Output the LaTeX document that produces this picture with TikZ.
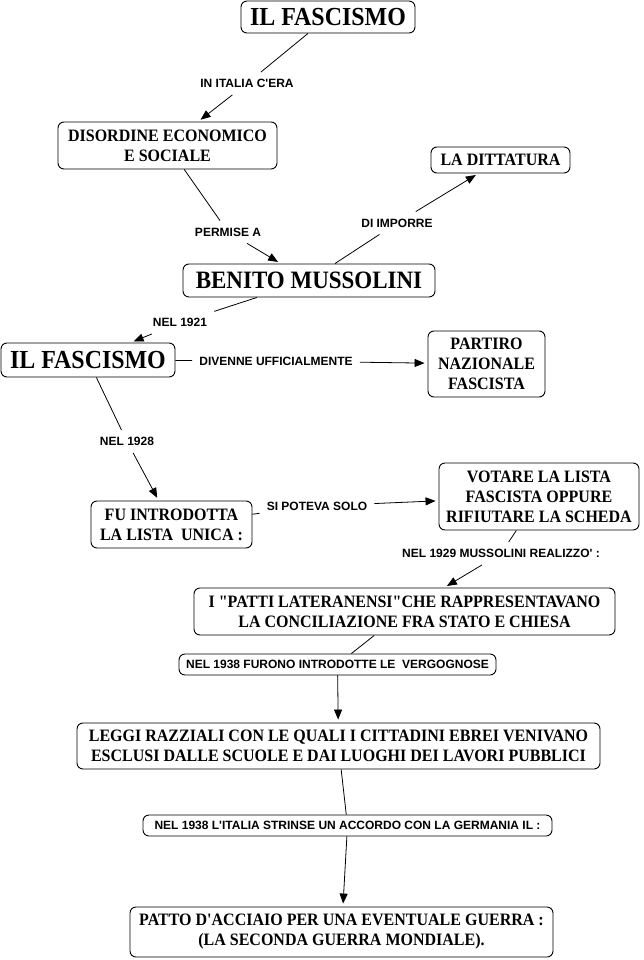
\documentclass[tikz,border=0pt]{standalone}
\usepackage{fontspec}
\newfontfamily\srf[FakeStretch=0.92]{Liberation Serif}
\newfontfamily\snf{Liberation Sans}
\usetikzlibrary{arrows.meta}
\tikzset{
  box/.style={draw, rounded corners=6pt, line width=0.9pt, inner sep=0pt, align=center,
    font=\srf\fontsize{17.4}{20}\selectfont\bfseries},
  bigbox/.style={box, font=\srf\fontsize{26}{30}\selectfont\bfseries},
  labbox/.style={draw, rounded corners=6pt, line width=0.9pt, inner sep=0pt, align=center,
    font=\snf\fontsize{12}{14}\selectfont\bfseries},
  lab/.style={inner sep=7pt, align=center, font=\snf\fontsize{12}{14}\selectfont\bfseries},
  con/.style={line width=0.8pt},
  arr/.style={line width=0.8pt, -{Triangle[length=10pt,width=8pt]}, shorten >=3pt},
}
\begin{document}
\begin{tikzpicture}[x=1pt,y=-1pt]
\useasboundingbox (0,0) rectangle (643,960);
% boxes
\node[bigbox, minimum width=174pt, minimum height=32pt] (f1) at (328,17) {IL FASCISMO};
\node[box, minimum width=219pt, minimum height=47pt] (dis) at (167.5,145.5) {DISORDINE ECONOMICO\\E SOCIALE};
\node[box, minimum width=139pt, minimum height=26pt] (dit) at (500.5,160) {LA DITTATURA};
\node[bigbox, font=\srf\fontsize{25}{29}\selectfont\bfseries, minimum width=252pt, minimum height=33pt] (ben) at (309,280.5) {BENITO MUSSOLINI};
\node[bigbox, minimum width=174pt, minimum height=34pt] (f2) at (88,360) {IL FASCISMO};
\node[box, minimum width=117pt, minimum height=66pt] (pnf) at (486.5,364) {PARTIRO\\NAZIONALE\\FASCISTA};
\node[box, minimum width=161pt, minimum height=47pt] (fu) at (171.5,524.5) {FU INTRODOTTA\\LA LISTA~ UNICA :};
\node[box, minimum width=200pt, minimum height=67pt] (vot) at (539,496.5) {VOTARE LA LISTA\\FASCISTA OPPURE\\RIFIUTARE LA SCHEDA};
\node[box, minimum width=421pt, minimum height=47pt] (pat) at (404.5,611.5) {I "PATTI LATERANENSI"CHE RAPPRESENTAVANO\\LA CONCILIAZIONE FRA STATO E CHIESA};
\node[labbox, minimum width=317pt, minimum height=21pt] (fur) at (337.5,664.5) {NEL 1938 FURONO INTRODOTTE LE~ VERGOGNOSE};
\node[box, minimum width=523pt, minimum height=46pt] (leg) at (338.5,746) {LEGGI RAZZIALI CON LE QUALI I CITTADINI EBREI VENIVANO\\ESCLUSI DALLE SCUOLE E DAI LUOGHI DEI LAVORI PUBBLICI};
\node[labbox, minimum width=409pt, minimum height=21pt] (ita) at (347.5,825.5) {NEL 1938 L'ITALIA STRINSE UN ACCORDO CON LA GERMANIA IL :};
\node[box, minimum width=423pt, minimum height=50pt] (pac) at (341.5,932) {PATTO D'ACCIAIO PER UNA EVENTUALE GUERRA :\\(LA SECONDA GUERRA MONDIALE).};
% linking labels
\node[lab] (l1) at (247,83.5) {IN ITALIA C'ERA};
\node[lab] (l2) at (228,232) {PERMISE A};
\node[lab] (l3) at (397,223) {DI IMPORRE};
\node[lab] (l4) at (180,322.5) {NEL 1921};
\node[lab] (l5) at (276,361) {DIVENNE UFFICIALMENTE};
\node[lab] (l6) at (127,441.5) {NEL 1928};
\node[lab] (l7) at (317,506) {SI POTEVA SOLO};
\node[lab] (l8) at (501,553.5) {NEL 1929 MUSSOLINI REALIZZO' :};
% connectors
\draw[con] (f1) -- (l1);
\draw[arr] (l1) -- (dis);
\draw[con] (dis) -- (l2);
\draw[arr] (l2) -- (ben);
\draw[con] (ben) -- (l3);
\draw[arr] (l3) -- (dit);
\draw[con] (ben) -- (l4);
\draw[arr] (l4) -- (f2);
\draw[con] (f2) -- (l5);
\draw[arr] (l5) -- (pnf);
\draw[con] (f2) -- (l6);
\draw[arr] (l6) -- (fu);
\draw[con] (fu) -- (l7);
\draw[arr] (l7) -- (vot);
\draw[con] (vot) -- (l8);
\draw[arr] (l8) -- (pat);
\draw[con] (pat) -- (fur);
\draw[arr] (fur) -- (leg);
\draw[con] (leg) -- (ita);
\draw[arr] (ita) -- (pac);
\end{tikzpicture}
\end{document}
